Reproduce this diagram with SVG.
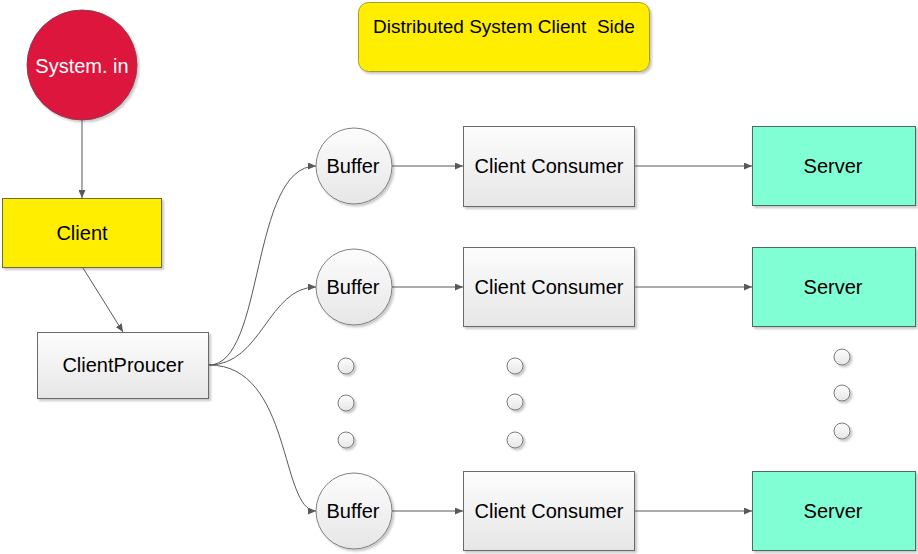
<svg xmlns="http://www.w3.org/2000/svg" width="918" height="554" viewBox="0 0 918 554">
<defs>
<linearGradient id="gray" x1="0" y1="0" x2="0" y2="1">
<stop offset="0" stop-color="#fdfdfd"/>
<stop offset="1" stop-color="#e6e6e6"/>
</linearGradient>
<filter id="sh" x="-10%" y="-10%" width="130%" height="130%">
<feDropShadow dx="2" dy="2" stdDeviation="1.2" flood-color="#000" flood-opacity="0.22"/>
</filter>
<marker id="arr" viewBox="0 0 8 7" refX="8" refY="3.5" markerWidth="8" markerHeight="7" orient="auto" markerUnits="userSpaceOnUse">
<path d="M0,0 L8,3.5 L0,7 z" fill="#595959"/>
</marker>
</defs>
<style>
text{font-family:"Liberation Sans",Arial,sans-serif;font-size:20px;fill:#000;text-anchor:middle}
.conn path,.conn line{fill:none;stroke:#595959;stroke-width:1;marker-end:url(#arr)}
.box{fill:url(#gray);stroke:#6b6b6b;stroke-width:1;filter:url(#sh)}
.buf{fill:url(#gray);stroke:#808080;stroke-width:1;filter:url(#sh)}
.srv{fill:#80ffd4;stroke:#4d6b61;stroke-width:1;filter:url(#sh)}
.dot{fill:url(#gray);stroke:#7a7a7a;stroke-width:1;filter:url(#sh)}
</style>

<g id="title">
<rect x="358.5" y="2.5" width="291" height="69" rx="10" fill="#ffee00" stroke="#a89a3a" filter="url(#sh)"/>
<text x="504" y="33" style="font-size:19px" xml:space="preserve">Distributed System Client  Side</text>
</g>

<g id="system-in">
<circle cx="82" cy="65" r="55" fill="#dc143c" stroke="#8a4050" filter="url(#sh)"/>
<text x="82" y="73" style="fill:#fff">System. in</text>
</g>

<g id="client">
<rect x="2.5" y="198.5" width="159" height="69" fill="#ffee00" stroke="#6e6a3a" filter="url(#sh)"/>
<text x="82" y="240">Client</text>
</g>

<g id="client-producer">
<rect class="box" x="37.5" y="332.5" width="171" height="66"/>
<text x="123" y="372">ClientProucer</text>
</g>

<g id="buffer-1"><circle class="buf" cx="354" cy="166" r="38"/><text x="353" y="173">Buffer</text></g>
<g id="buffer-2"><circle class="buf" cx="354" cy="287" r="38"/><text x="353" y="294">Buffer</text></g>
<g id="buffer-3"><circle class="buf" cx="354" cy="511" r="38"/><text x="353" y="518">Buffer</text></g>

<g id="consumer-1"><rect class="box" x="463.5" y="126.5" width="171" height="80"/><text x="549" y="173">Client Consumer</text></g>
<g id="consumer-2"><rect class="box" x="463.5" y="247.5" width="171" height="79"/><text x="549" y="294">Client Consumer</text></g>
<g id="consumer-3"><rect class="box" x="463.5" y="471.5" width="171" height="79"/><text x="549" y="518">Client Consumer</text></g>

<g id="server-1"><rect class="srv" x="752.5" y="126.5" width="163" height="79"/><text x="833" y="173">Server</text></g>
<g id="server-2"><rect class="srv" x="752.5" y="247.5" width="163" height="79"/><text x="833" y="294">Server</text></g>
<g id="server-3"><rect class="srv" x="752.5" y="471.5" width="163" height="79"/><text x="833" y="518">Server</text></g>

<g id="ellipsis-dots">
<circle class="dot" cx="346" cy="366" r="8"/>
<circle class="dot" cx="346" cy="403" r="8"/>
<circle class="dot" cx="346" cy="440" r="8"/>
<circle class="dot" cx="515" cy="366" r="8"/>
<circle class="dot" cx="515" cy="402" r="8"/>
<circle class="dot" cx="515" cy="440" r="8"/>
<circle class="dot" cx="842" cy="357" r="8"/>
<circle class="dot" cx="842" cy="393" r="8"/>
<circle class="dot" cx="842" cy="431" r="8"/>
</g>

<g class="conn" id="connectors">
<line x1="82" y1="120" x2="82" y2="198"/>
<line x1="83" y1="268" x2="123" y2="332"/>
<path d="M209,365 C265,365 250,166 316,166"/>
<path d="M209,365 C262,365 268,287 316,287"/>
<path d="M209,365 C292,365 280,511 316,511"/>
<line x1="392" y1="166" x2="463" y2="166"/>
<line x1="392" y1="287" x2="463" y2="287"/>
<line x1="392" y1="511" x2="463" y2="511"/>
<line x1="635" y1="166" x2="752" y2="166"/>
<line x1="635" y1="287" x2="752" y2="287"/>
<line x1="635" y1="511" x2="752" y2="511"/>
</g>
</svg>
